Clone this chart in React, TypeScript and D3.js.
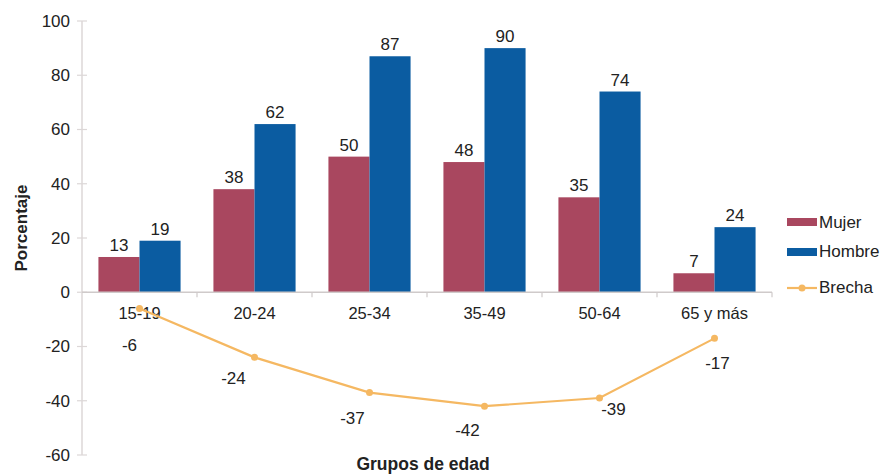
import React from "react";
import * as d3 from "d3";

const categories = ["15-19", "20-24", "25-34", "35-49", "50-64", "65 y más"];
const mujer = [13, 38, 50, 48, 35, 7];
const hombre = [19, 62, 87, 90, 74, 24];
const brecha = [-6, -24, -37, -42, -39, -17];
const yTicks = [100, 80, 60, 40, 20, 0, -20, -40, -60];
const brechaLabelDx = [-10, -21, -17, -17, 14, 3];
const brechaLabelDy = [42, 27, 31, 30, 17, 31];

const W = 888, H = 475;
const left = 82, right = 772, top = 21, bottom = 455;
const font = "Liberation Sans, Arial, sans-serif";
const cMujer = "#a9475f";
const cHombre = "#0b5ca1";
const cBrecha = "#f5b862";

export default function App() {
  const y = d3.scaleLinear().domain([-60, 100]).range([bottom, top]);
  const x = d3.scaleBand().domain(categories).range([left, right]).paddingInner(0).paddingOuter(0);
  const inner = d3.scaleBand().domain(["m", "h"]).range([0, x.bandwidth()]).paddingInner(0).paddingOuter(0.4);
  const line = d3.line<number>().x((_, i) => x(categories[i])! + x.bandwidth() / 2).y((d) => y(d));
  const y0 = y(0);
  return (
    <svg width={W} height={H} style={{ position: "absolute", left: 0, top: 0 }} fontFamily={font}>
      <rect width={W} height={H} fill="#fff" />
      {/* y axis */}
      <line x1={left} x2={left} y1={top} y2={bottom} stroke="#dcd7d7" strokeWidth={1.5} />
      {yTicks.map((t) => (
        <g key={t}>
          <line x1={left - 5} x2={left + 5} y1={y(t)} y2={y(t)} stroke="#dcd7d7" strokeWidth={1.2} />
          <text x={left - 12} y={y(t)} dy="0.35em" textAnchor="end" fontSize={17} fill="#222">{t}</text>
        </g>
      ))}
      {/* bars */}
      {categories.map((c, i) => (
        <g key={c}>
          <rect x={x(c)! + inner("m")!} y={y(mujer[i])} width={inner.bandwidth()} height={y0 - y(mujer[i])} fill={cMujer} />
          <rect x={x(c)! + inner("h")!} y={y(hombre[i])} width={inner.bandwidth()} height={y0 - y(hombre[i])} fill={cHombre} />
          <text x={x(c)! + inner("m")! + inner.bandwidth() / 2} y={y(mujer[i]) - 6} textAnchor="middle" fontSize={17} fill="#222">{mujer[i]}</text>
          <text x={x(c)! + inner("h")! + inner.bandwidth() / 2} y={y(hombre[i]) - 6} textAnchor="middle" fontSize={17} fill="#222">{hombre[i]}</text>
          <text x={x(c)! + x.bandwidth() / 2} y={y0 + 27} textAnchor="middle" fontSize={16.5} fill="#222">{c}</text>
        </g>
      ))}
      {/* x axis */}
      <line x1={left} x2={right} y1={y0} y2={y0} stroke="#cfcaca" strokeWidth={1.5} />
      {categories.map((c) => (
        <line key={c} x1={x(c)! + x.bandwidth()} x2={x(c)! + x.bandwidth()} y1={y0} y2={y0 + 5} stroke="#cfcaca" strokeWidth={1.2} />
      ))}
      {/* brecha line */}
      <path d={line(brecha)!} fill="none" stroke={cBrecha} strokeWidth={2.2} />
      {brecha.map((v, i) => {
        const cx = x(categories[i])! + x.bandwidth() / 2;
        return (
          <g key={i}>
            <circle cx={cx} cy={y(v)} r={3.5} fill={cBrecha} />
            <text x={cx + brechaLabelDx[i]} y={y(v) + brechaLabelDy[i]} textAnchor="middle" fontSize={17} fill="#222">{v}</text>
          </g>
        );
      })}
      {/* axis titles */}
      <text transform={`translate(27,228) rotate(-90)`} textAnchor="middle" fontSize={17} fontWeight="bold" fill="#222">Porcentaje</text>
      <text x={423} y={470} textAnchor="middle" fontSize={17.5} fontWeight="bold" fill="#222">Grupos de edad</text>
      {/* legend */}
      <g fontSize={17} fill="#222">
        <rect x={787} y={218} width={30} height={8} fill={cMujer} />
        <text x={819} y={222} dy="0.35em">Mujer</text>
        <rect x={787} y={248} width={30} height={8} fill={cHombre} />
        <text x={819} y={251} dy="0.35em">Hombre</text>
        <line x1={787} x2={817} y1={288} y2={288} stroke={cBrecha} strokeWidth={2.2} />
        <circle cx={802} cy={288} r={3.5} fill={cBrecha} />
        <text x={819} y={287} dy="0.35em">Brecha</text>
      </g>
    </svg>
  );
}
